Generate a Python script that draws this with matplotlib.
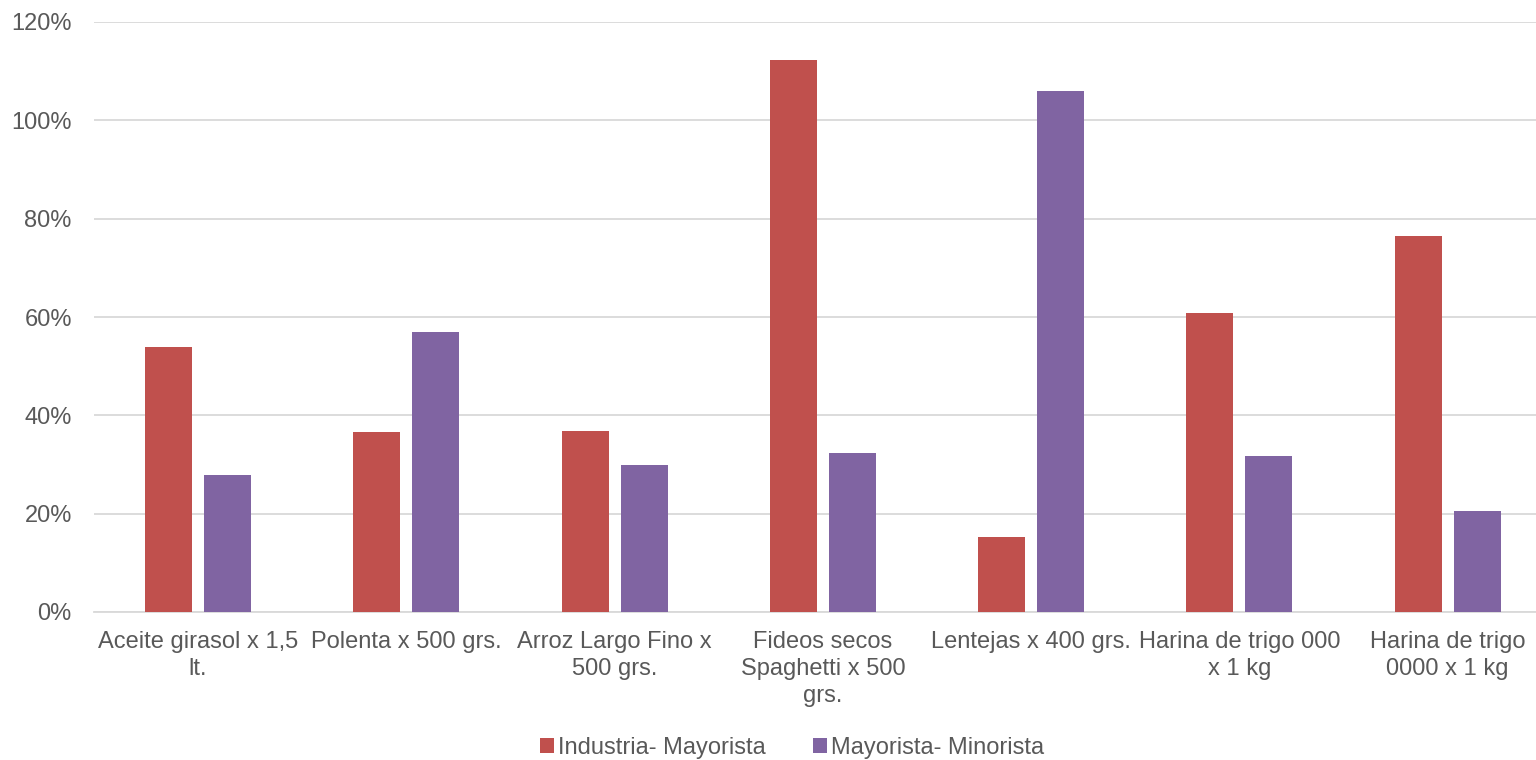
import matplotlib
matplotlib.use("Agg")
import matplotlib.pyplot as plt
import numpy as np
from matplotlib.ticker import PercentFormatter

categories = ["Aceite girasol x 1,5\nlt.", "Polenta x 500 grs.", "Arroz Largo Fino x\n500 grs.",
              "Fideos secos\nSpaghetti x 500\ngrs.", "Lentejas x 400 grs.",
              "Harina de trigo 000\nx 1 kg", "Harina de trigo\n0000 x 1 kg"]
industria_mayorista = [53.9, 36.6, 36.8, 112.3, 15.3, 60.8, 76.5]
mayorista_minorista = [27.9, 56.9, 29.9, 32.3, 106.0, 31.7, 20.5]
series_names = ["Industria- Mayorista", "Mayorista- Minorista"]
yticks = [0, 20, 40, 60, 80, 100, 120]

plt.rcParams['font.family'] = ['Liberation Sans', 'DejaVu Sans']
W, H = 1536, 760
fig = plt.figure(figsize=(W/100, H/100), dpi=100)
left_px, cat_px = 94, 208.25
ax = fig.add_axes([left_px/W, 1-612/H, 7*cat_px/W, (612-22)/H])

x = np.arange(len(categories))
bw = 0.226
off = 0.142
ax.bar(x - off, industria_mayorista, bw, color="#C0504D", label=series_names[0], zorder=3)
ax.bar(x + off, mayorista_minorista, bw, color="#8064A2", label=series_names[1], zorder=3)

ax.set_xlim(-0.5, len(categories) - 0.5)
ax.set_ylim(0, 120)
ax.set_yticks(yticks)
ax.yaxis.set_major_formatter(PercentFormatter(decimals=0))
ax.grid(axis='y', color="#D9D9D9", linewidth=1.3, zorder=0)
ax.set_xticks(x)
ax.set_xticklabels(categories, fontsize=17, color="#595959", linespacing=1.3)
ax.tick_params(axis='y', labelsize=17, labelcolor="#595959", length=0, pad=16)
ax.tick_params(axis='x', length=0, pad=13.5)
for s in ["top", "right", "left"]:
    ax.spines[s].set_visible(False)
ax.spines["bottom"].set_color("#D9D9D9")
ax.spines["bottom"].set_linewidth(1.3)

fig.legend(loc="center", bbox_to_anchor=(792/W, 1-748/H), ncol=2, frameon=False,
           fontsize=17, labelcolor="#595959", handlelength=0.6, handleheight=0.6,
           handletextpad=0.15, columnspacing=2.0)

fig.savefig("out.png", dpi=100)
